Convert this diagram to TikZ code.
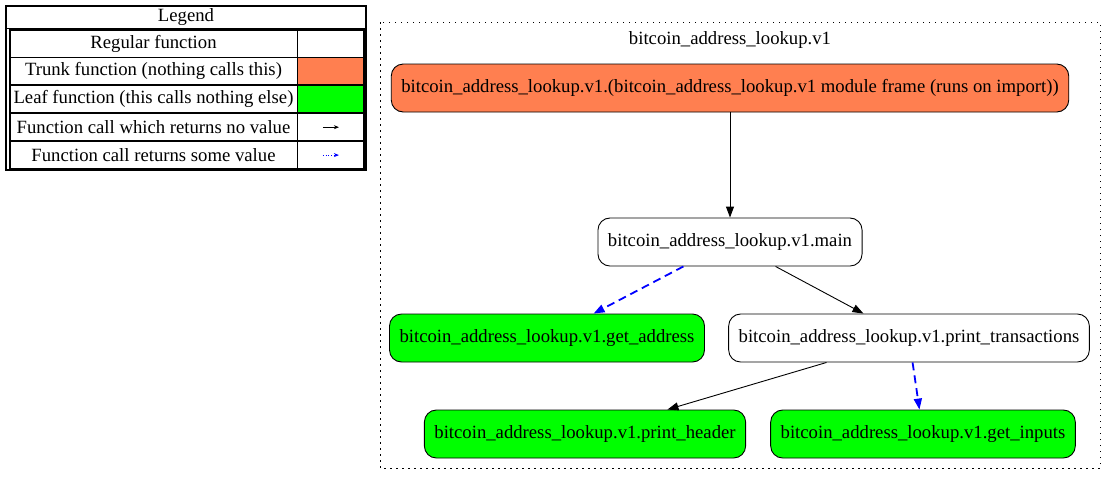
\documentclass[tikz,border=0pt]{standalone}
\usepackage{fontspec}
\setmainfont{Liberation Serif}
\usetikzlibrary{positioning,arrows.meta}
\definecolor{trunkcol}{HTML}{FF7F50}
\definecolor{leafcol}{HTML}{00FF00}

\begin{document}
\begin{tikzpicture}[x=1pt, y=-1pt,
					func/.style={rectangle, rounded corners=12pt, draw=black, line width=0.9pt, minimum height=48pt, inner xsep=10pt, font=\fontsize{18.7}{21}\selectfont},
					trunkfunc/.style={func, fill=trunkcol},
					leaffunc/.style={func, fill=leafcol},
					call/.style={-{Triangle[length=11pt,width=8pt]}, black, line width=0.9pt},
					retcall/.style={-{Triangle[length=11pt,width=8pt]}, blue, line width=1.8pt, dash pattern=on 8pt off 5pt},
					cell/.style={rectangle, draw=black, line width=0.9pt, minimum height=27pt, inner sep=0pt, font=\fontsize{18.7}{21}\selectfont},
					keycell/.style={cell, minimum width=66pt},
					txtcell/.style={cell, minimum width=287pt}
				]
				\useasboundingbox (0,0) rectangle (1118,485);
				% legend
				\draw[line width=1.2pt] (6,6) rectangle (366,170);
				\node[font=\fontsize{18.7}{21}\selectfont] (legendtitle) at (186,17) {Legend};
				\draw[line width=0.9pt] (6,28) -- (366,28);
				\node[txtcell] (regular) at (153.5,43.5) {Regular function};
				\node[keycell] (regularkey) [right=0pt of regular] {};
				\node[txtcell] (trunk) [below=0pt of regular] {Trunk function (nothing calls this)};
				\node[keycell, fill=trunkcol] (trunkkey) [right=0pt of trunk] {};
				\node[txtcell] (leaf) [below=0pt of trunk] {Leaf function (this calls nothing else)};
				\node[keycell, fill=leafcol] (leafkey) [right=0pt of leaf] {};
				\node[txtcell] (novalue) [below=0pt of leaf] {Function call which returns no value};
				\node[keycell] (novaluekey) [right=0pt of novalue] {};
				\node[txtcell] (somevalue) [below=0pt of novalue] {Function call returns some value};
				\node[keycell] (somevaluekey) [right=0pt of somevalue] {};
				\draw[line width=1.5pt] (regular.north west) rectangle (somevaluekey.south east);
				\draw[-{Stealth[length=5pt,width=4pt]}, black, line width=0.7pt] ([xshift=-8pt]novaluekey.center) -- ([xshift=8pt]novaluekey.center);
				\draw[-{Stealth[length=5pt,width=4pt]}, blue, line width=0.7pt, dotted] ([xshift=-8pt]somevaluekey.center) -- ([xshift=8pt]somevaluekey.center);
				% module cluster
				\draw[line width=0.9pt, dash pattern=on 1.5pt off 4.5pt] (380,22) rectangle (1100,468);
				\node[font=\fontsize{18.7}{21}\selectfont] (clustertitle) at (730,40) {bitcoin\_address\_lookup.v1};
				\node[trunkfunc] (modframe) at (730,88) {bitcoin\_address\_lookup.v1.(bitcoin\_address\_lookup.v1 module frame (runs on import))};
				\node[func] (mainfn) at (730,242) {bitcoin\_address\_lookup.v1.main};
				\node[leaffunc] (getaddress) at (547,338) {bitcoin\_address\_lookup.v1.get\_address};
				\node[func] (printtrans) at (909,338) {bitcoin\_address\_lookup.v1.print\_transactions};
				\node[leaffunc] (printheader) at (585,434) {bitcoin\_address\_lookup.v1.print\_header};
				\node[leaffunc] (getinputs) at (923,434) {bitcoin\_address\_lookup.v1.get\_inputs};
				\draw[call] (modframe) -- (mainfn);
				\draw[call] (mainfn) -- (printtrans);
				\draw[call] (printtrans) -- (printheader);
				\begin{scope}[retcall]
				\draw (mainfn) -- (getaddress);
				\draw (printtrans) -- (getinputs);
				\end{scope}
				\end{tikzpicture}
\end{document}
